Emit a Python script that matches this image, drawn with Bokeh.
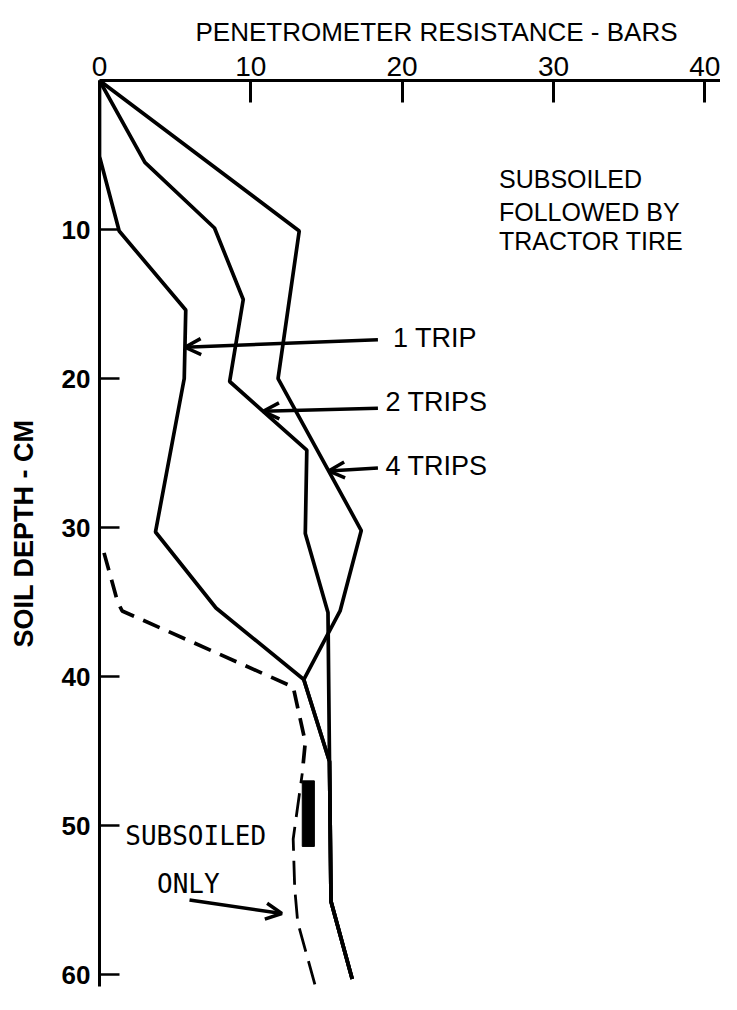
import numpy as np
from bokeh.plotting import figure
from bokeh.models import Range1d, FixedTicker, Arrow, OpenHead
from bokeh.core.properties import value
from bokeh.embed import file_html
from bokeh.resources import INLINE

# ---------------- data ----------------
x_ticks = [0, 10, 20, 30, 40]
y_ticks = [10, 20, 30, 40, 50, 60]

# penetrometer resistance (bars) vs soil depth (cm)
depth_1trip = [0, 5.1, 10.1, 15.4, 20.0, 30.3, 35.4, 40.2, 45.7, 55.1, 60.3]
res_1trip = [0, 0.0, 1.3, 5.7, 5.6, 3.7, 7.7, 13.5, 15.2, 15.3, 16.7]

depth_2trips = [0, 5.5, 9.9, 14.7, 20.2, 24.8, 30.4, 35.7, 45.7, 55.1, 60.3]
res_2trips = [0, 3.0, 7.6, 9.5, 8.6, 13.7, 13.6, 15.1, 15.2, 15.3, 16.7]

depth_4trips = [0, 10.1, 20.0, 30.2, 35.6, 40.2, 45.7, 55.1, 60.3]
res_4trips = [0, 13.2, 11.8, 17.3, 15.9, 13.5, 15.2, 15.3, 16.7]

depth_subsoiled = [31.7, 35.0, 35.6, 40.7, 44.4, 46.5, 50.9, 54.2, 56.5, 60.9]
res_subsoiled = [0.3, 1.2, 1.5, 12.8, 13.6, 13.4, 12.8, 12.9, 13.1, 14.3]

# vertical bar (LSD) drawn near 50 cm
lsd_left = [13.4]
lsd_right = [14.2]
lsd_top = [47.0]
lsd_bottom = [51.4]

FONT = "Liberation Sans"

p = figure(width=720, height=992,
           x_range=Range1d(0, 41.04), y_range=Range1d(60.8, 0),
           x_axis_location="above",
           output_backend="svg", toolbar_location=None,
           min_border_left=99, min_border_right=0,
           min_border_top=80, min_border_bottom=6)
p.outline_line_color = None
p.grid.visible = False
p.background_fill_color = "white"
p.border_fill_color = "white"

# title
p.title.text = "PENETROMETER RESISTANCE - BARS"
p.title.align = "left"
p.title.offset = 96
p.title.vertical_align = "top"
p.title.standoff = 10
p.title.text_font = FONT
p.title.text_font_style = "normal"
p.title.text_font_size = "26px"
p.title.text_color = "black"

# top axis
xa = p.xaxis[0]
xa.ticker = FixedTicker(ticks=x_ticks)
xa.major_tick_in = 22
xa.major_tick_out = 0
xa.minor_tick_line_color = None
xa.axis_line_width = 3
xa.major_tick_line_width = 3
xa.major_label_text_font = FONT
xa.major_label_text_font_size = "28px"
xa.major_label_text_color = "black"
xa.major_label_standoff = 5

# left axis
ya = p.yaxis[0]
ya.ticker = FixedTicker(ticks=y_ticks)
ya.major_tick_in = 20
ya.major_tick_out = 0
ya.minor_tick_line_color = None
ya.axis_line_width = 3
ya.major_tick_line_width = 2.5
ya.major_label_text_font = FONT
ya.major_label_text_font_style = "bold"
ya.major_label_text_font_size = "26px"
ya.major_label_text_color = "black"
ya.major_label_standoff = 9
ya.axis_label = "SOIL DEPTH - CM"
ya.axis_label_text_font = FONT
ya.axis_label_text_font_style = "bold"
ya.axis_label_text_font_size = "27px"
ya.axis_label_text_color = "black"
ya.axis_label_standoff = 20

# curves
p.line(res_1trip, depth_1trip, line_width=3.7, color="black")
p.line(res_2trips, depth_2trips, line_width=3.7, color="black")
p.line(res_4trips, depth_4trips, line_width=3.7, color="black")

# dashed curve: heavier dashes above ~47 cm, lighter and longer below
split = 6
p.line(res_subsoiled[:split], depth_subsoiled[:split], line_width=3.7,
       color="black", line_dash="18 10")
p.line(res_subsoiled[split - 1:], depth_subsoiled[split - 1:], line_width=2.8,
       color="black", line_dash="24 10", line_dash_offset=14)
p.quad(left=lsd_left, right=lsd_right, top=lsd_top, bottom=lsd_bottom, color="black")

# text annotations
p.text(x=[26.4, 26.4, 26.4], y=[6.6, 8.8, 10.8],
       text=["SUBSOILED", "FOLLOWED BY", "TRACTOR TIRE"],
       text_font=value(FONT), text_font_size="25px", text_color="black",
       text_baseline="middle", text_align="left")
p.text(x=[19.4, 18.9, 18.9], y=[17.3, 21.6, 25.9],
       text=["1 TRIP", "2 TRIPS", "4 TRIPS"],
       text_font=value(FONT), text_font_size="27px", text_color="black",
       text_baseline="middle", text_align="left")
p.text(x=[1.7, 3.8], y=[50.7, 53.9], text=["SUBSOILED", "ONLY"],
       text_font=value("DejaVu Sans Mono"), text_font_size="26px", text_color="black",
       text_baseline="middle", text_align="left")

# arrows pointing at the curves
def tip(res, depth, d):
    return float(np.interp(d, depth, res))

arrow_specs = [
    (18.4, 17.4, tip(res_1trip, depth_1trip, 17.9), 17.9),
    (18.4, 22.0, tip(res_2trips, depth_2trips, 22.2), 22.2),
    (18.4, 26.0, tip(res_4trips, depth_4trips, 26.2), 26.2),
    (5.95, 55.0, tip(res_subsoiled, depth_subsoiled, 55.9) - 1.0, 55.9),
]
for xs, ys, xe, ye in arrow_specs:
    p.add_layout(Arrow(end=OpenHead(size=16, line_width=3.5, line_color="black"),
                       x_start=xs, y_start=ys, x_end=xe, y_end=ye,
                       line_width=3.5, line_color="black"))

open("out.html", "w").write(file_html(p, INLINE))
